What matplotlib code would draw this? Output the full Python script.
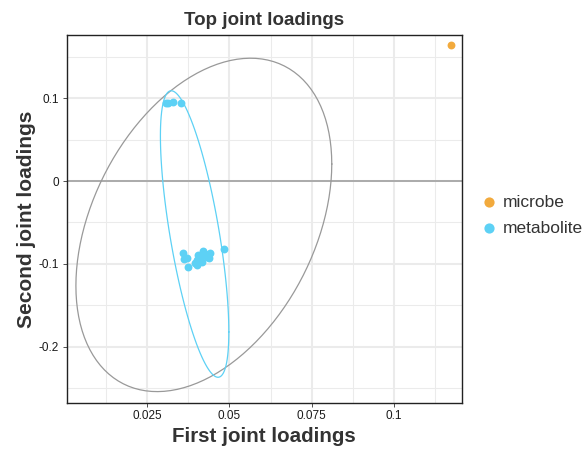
import numpy as np
import matplotlib
matplotlib.use("Agg")
import matplotlib.pyplot as plt
from matplotlib.ticker import FixedLocator

plt.rcParams['font.family'] = ['Liberation Sans', 'DejaVu Sans']

# loadings
microbe_x = [0.1173]
microbe_y = [0.1639]

metab_x = [0.0307, 0.0314, 0.0329, 0.0352,
           0.0358, 0.0362, 0.0370, 0.0375, 0.0395, 0.0400, 0.0402, 0.0405,
           0.0410, 0.0415, 0.0420, 0.0425, 0.0431, 0.0439, 0.0441, 0.0484]
metab_y = [0.0946, 0.0938, 0.0954, 0.0946,
           -0.0866, -0.0938, -0.0934, -0.1042, -0.0994, -0.0954, -0.1014, -0.0894,
           -0.0934, -0.0974, -0.0841, -0.0882, -0.0914, -0.0926, -0.0866, -0.0821]

# ellipses (centre and shape matrix)
all_center = [0.0422, -0.0530]
all_shape = [[0.001513, 0.00286], [0.00286, 0.04052]]
metab_center = [0.0394, -0.0640]
metab_shape = [[0.0001082, -0.00123], [-0.00123, 0.02993]]

x_ticks = [0.025, 0.05, 0.075, 0.1]
x_labels = ["0.025", "0.05", "0.075", "0.1"]
y_ticks = [-0.2, -0.1, 0, 0.1]
y_labels = ["-0.2", "-0.1", "0", "0.1"]

col_microbe = "#F2AA3D"
col_metab = "#5DD1F5"


def ellipse(center, shape, segments=120):
    chol = np.linalg.cholesky(np.array(shape)).T
    ang = np.linspace(0, 2 * np.pi, segments + 1)
    circ = np.column_stack([np.cos(ang), np.sin(ang)])
    e = np.array(center) + circ @ chol
    return e[:, 0], e[:, 1]


fig = plt.figure(figsize=(5.88, 4.49), dpi=100)
ax = fig.add_axes([0.1134, 0.1031, 0.6718, 0.8189])

ax.set_xlim(0.0005, 0.1206)
ax.set_ylim(-0.2677, 0.1763)

ax.xaxis.set_major_locator(FixedLocator(x_ticks))
ax.yaxis.set_major_locator(FixedLocator(y_ticks))
ax.xaxis.set_minor_locator(FixedLocator([0.0125, 0.0375, 0.0625, 0.0875, 0.1125]))
ax.yaxis.set_minor_locator(FixedLocator([-0.25, -0.15, -0.05, 0.05, 0.15]))
ax.set_xticklabels(x_labels)
ax.set_yticklabels(y_labels)
ax.grid(which='major', color='#EBEBEB', linewidth=1.5)
ax.grid(which='minor', color='#EBEBEB', linewidth=0.75)
ax.set_axisbelow(True)
ax.tick_params(which='minor', length=0)
ax.tick_params(which='major', length=3, width=0.6, labelsize=8.5, color='#333333',
               labelcolor='#1A1A1A', pad=2.5)
for s in ax.spines.values():
    s.set_color('#222222')
    s.set_linewidth(1.0)

ax.axhline(0, color='#999999', linewidth=1.1, zorder=1.5)

ex, ey = ellipse(all_center, all_shape)
ax.plot(ex, ey, color='#999999', linewidth=0.9, zorder=2)
mx, my = ellipse(metab_center, metab_shape)
ax.plot(mx, my, color=col_metab, linewidth=0.9, zorder=2)

ax.scatter(microbe_x, microbe_y, s=32, color=col_microbe, linewidths=0, zorder=3, label='microbe')
ax.scatter(metab_x, metab_y, s=32, color=col_metab, linewidths=0, zorder=3, label='metabolite')

ax.set_title("Top joint loadings", fontsize=13.5, fontweight='bold', color='#333333', pad=7)
ax.set_xlabel("First joint loadings", fontsize=14.8, fontweight='bold', color='#333333', labelpad=3.5)
ax.set_ylabel("Second joint loadings", fontsize=15, fontweight='bold', color='#333333', labelpad=2)

leg = ax.legend(loc='center left', bbox_to_anchor=(1.029, 0.51), frameon=False, fontsize=12.5,
                handlelength=1.0, handletextpad=0.3, markerscale=1.3, labelspacing=0.6,
                borderaxespad=0)
for t in leg.get_texts():
    t.set_color('#333333')

fig.savefig("out.png", dpi=100)
